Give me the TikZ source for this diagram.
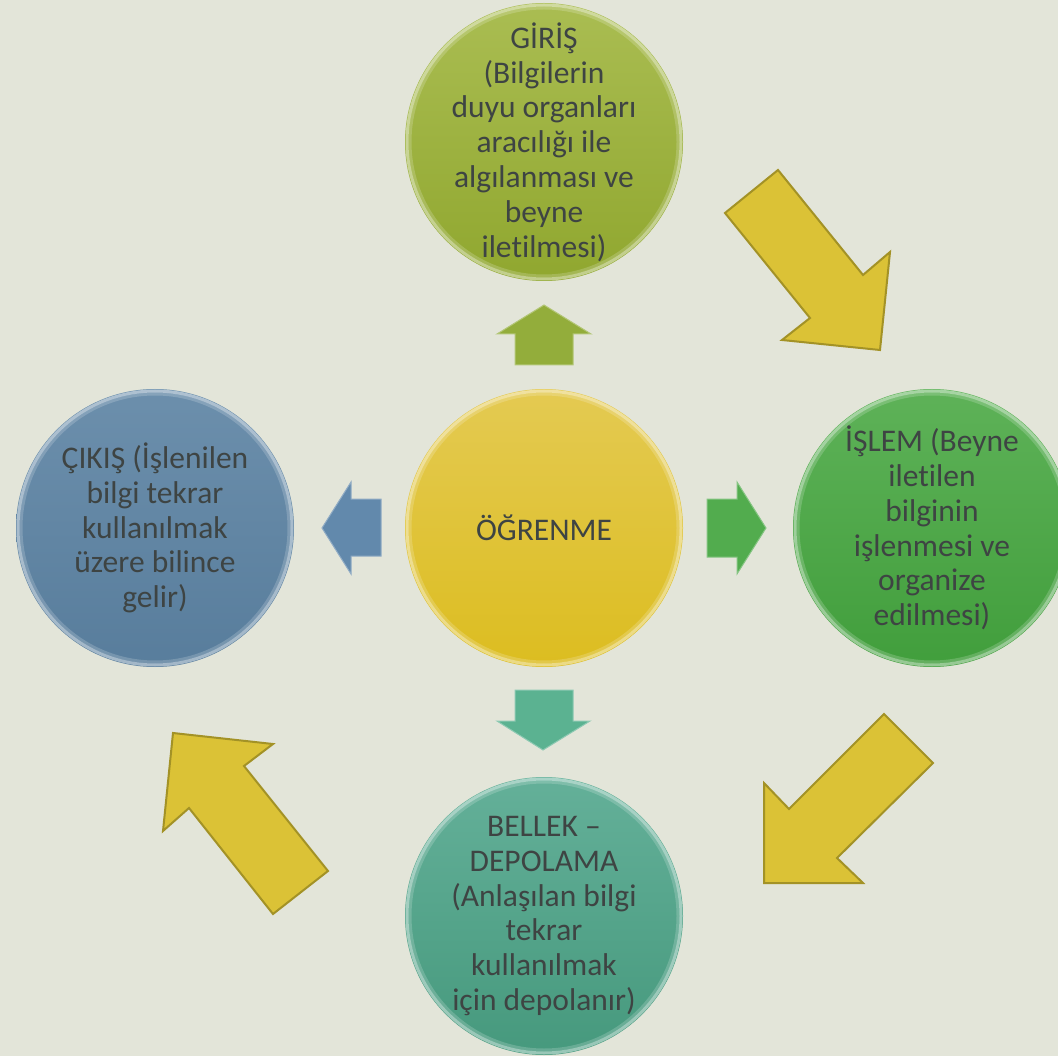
\documentclass[tikz,border=0pt]{standalone}
\usepackage{fontspec}
\setmainfont[Ligatures={CommonOff,ContextualOff}]{Carlito}
\definecolor{bg}{HTML}{E3E5D9}
\definecolor{txt}{HTML}{3E4443}
\definecolor{yelfill}{HTML}{DBC236}
\definecolor{yeldraw}{HTML}{A39226}
\definecolor{oliveT}{HTML}{AABD52}
\definecolor{oliveB}{HTML}{90A72F}
\definecolor{yelT}{HTML}{E4CA52}
\definecolor{yelB}{HTML}{DCBD20}
\definecolor{grnT}{HTML}{5EB258}
\definecolor{grnB}{HTML}{419E3C}
\definecolor{bluT}{HTML}{6C8FAC}
\definecolor{bluB}{HTML}{587D9C}
\definecolor{tealT}{HTML}{64B099}
\definecolor{tealB}{HTML}{46997D}
\definecolor{upc}{HTML}{93AD3B}
\definecolor{leftc}{HTML}{6289AC}
\definecolor{rightc}{HTML}{52AC4E}
\definecolor{downc}{HTML}{5BB291}
\tikzset{
  bubble/.style={circle, minimum size=278pt, inner sep=0pt,
    path picture={
      \draw[white, opacity=.45, line width=3pt] (path picture bounding box.center) circle (137pt);
      \draw[white, opacity=.18, line width=3pt] (path picture bounding box.center) circle (134pt);
    }},
  btext/.style={inner sep=0pt, align=center, text=txt, font=\fontsize{31.5}{34.8}\selectfont},
  bigarrow/.style={fill=yelfill, draw=yeldraw, line width=2pt, line join=miter},
  smallarrow/.style={line width=1pt, line join=miter},
}
\begin{document}
\begin{tikzpicture}[x=1pt,y=-1pt]
\useasboundingbox (0,0) rectangle (1058,1056);
\clip (0,0) rectangle (1058,1056);
\fill[bg] (0,0) rectangle (1058,1056);

% circles
\node[bubble, top color=oliveT, bottom color=oliveB] (giris) at (544,142) {};
\node[bubble, top color=yelT, bottom color=yelB] (ogrenme) at (544,528) {};
\node[bubble, top color=grnT, bottom color=grnB] (islem) at (932,528) {};
\node[bubble, top color=bluT, bottom color=bluB] (cikis) at (155,528) {};
\node[bubble, top color=tealT, bottom color=tealB] (bellek) at (544,916) {};

% texts
\node[btext] (girist) at (giris.center)
  {GİRİŞ\\(Bilgilerin\\duyu organları\\aracılığı ile\\algılanması ve\\beyne\\iletilmesi)};
\node[btext] (ogrenmet) at (ogrenme.center) {ÖĞRENME};
\node[btext] (islemt) at (islem.center)
  {İŞLEM (Beyne\\iletilen\\bilginin\\işlenmesi ve\\organize\\edilmesi)};
\node[btext] (cikist) at (cikis.center)
  {ÇIKIŞ (İşlenilen\\bilgi tekrar\\kullanılmak\\üzere bilince\\gelir)};
\node[btext] (bellekt) at (bellek.center)
  {BELLEK –\\DEPOLAMA\\(Anlaşılan bilgi\\tekrar\\kullanılmak\\için depolanır)};

% small block arrows
\filldraw[smallarrow, fill=upc, draw=upc!70!white] (544,305) -- (591,334) -- (573,334) -- (573,365) -- (515,365) -- (515,334) -- (497,334) -- cycle;
\filldraw[smallarrow, fill=leftc, draw=leftc!70!white] (322,528) -- (351,482) -- (351,499) -- (381,499) -- (381,556) -- (351,556) -- (351,574) -- cycle;
\filldraw[smallarrow, fill=rightc, draw=rightc!70!white] (766,528) -- (737,482) -- (737,499) -- (707,499) -- (707,557) -- (737,557) -- (737,574) -- cycle;
\filldraw[smallarrow, fill=downc, draw=downc!70!white] (543,750) -- (590,721) -- (573,721) -- (573,690) -- (515,690) -- (515,721) -- (497,721) -- cycle;

% big yellow arrows
\filldraw[bigarrow] (725,213) -- (778,170) -- (863,275) -- (890,252) -- (880,350) -- (782,340) -- (810,318) -- cycle;
\filldraw[bigarrow] (884,714) -- (933,763) -- (837,858) -- (863,883) -- (764,883) -- (764,783) -- (789,809) -- cycle;
\filldraw[bigarrow] (273,914) -- (328,871) -- (244,766) -- (273,744) -- (173,733) -- (163,831) -- (189,808) -- cycle;
\end{tikzpicture}
\end{document}
